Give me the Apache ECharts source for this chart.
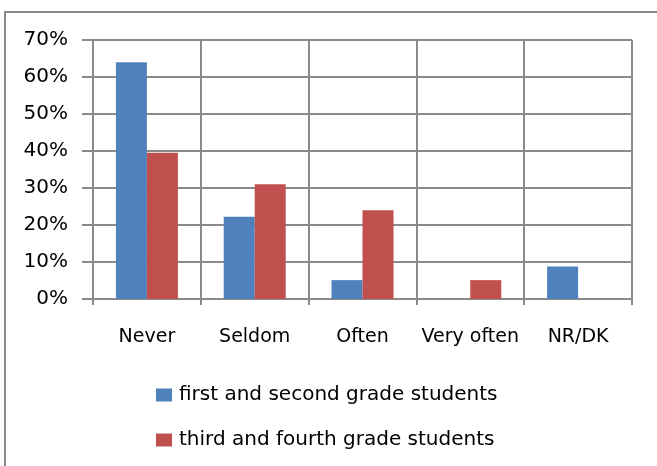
<!DOCTYPE html>
<html>
<head>
<meta charset="utf-8">
<script src="https://cdn.jsdelivr.net/npm/echarts@6/dist/echarts.min.js"></script>
<style>
html, body { margin: 0; padding: 0; background: #fff; }
#chart { width: 657px; height: 466px; }
</style>
</head>
<body>
<div id="chart"></div>
<script>
var categories = ['Never', 'Seldom', 'Often', 'Very often', 'NR/DK'];
var series_names = ['first and second grade students', 'third and fourth grade students'];
var first_second = [64, 22.2, 5.1, 0, 8.8];
var third_fourth = [39.5, 31, 24, 5.1, 0];

var grid_color = '#8a8a8a';
var font = 'DejaVu Sans';

var myChart = echarts.init(document.getElementById('chart'));

var option = {
    animation: false,
    backgroundColor: '#fff',
    textStyle: { fontFamily: font },
    grid: { left: 93, right: 25, top: 40, bottom: 167 },
    graphic: [{
        type: 'rect',
        shape: { x: 5, y: 12, width: 700, height: 500 },
        style: { fill: 'none', stroke: grid_color, lineWidth: 2 },
        silent: true
    }],
    legend: {
        orient: 'vertical',
        left: 151,
        top: 380,
        itemWidth: 16,
        itemHeight: 13,
        itemGap: 25,
        icon: 'rect',
        textStyle: { fontFamily: font, fontSize: 20, color: '#000', padding: [0, 0, 0, 2] },
        data: series_names
    },
    xAxis: {
        type: 'category',
        data: categories,
        axisLine: { lineStyle: { color: grid_color, width: 2 } },
        axisTick: { show: true, interval: 0, length: 6, lineStyle: { color: grid_color, width: 2 } },
        splitLine: { show: true, interval: 0, lineStyle: { color: grid_color, width: 2 } },
        axisLabel: { interval: 0, color: '#000', fontSize: 19, fontFamily: font, margin: 29 }
    },
    yAxis: {
        type: 'value',
        min: 0,
        max: 70,
        interval: 10,
        axisLine: { show: true, lineStyle: { color: grid_color, width: 2 } },
        axisTick: { show: true, length: 11, lineStyle: { color: grid_color, width: 2 } },
        splitLine: { show: true, lineStyle: { color: grid_color, width: 2 } },
        axisLabel: { color: '#000', fontSize: 20, fontFamily: font, margin: 25, formatter: '{value}%' }
    },
    series: [{
        name: series_names[0],
        type: 'bar',
        data: first_second,
        barWidth: 31,
        barGap: '0%',
        itemStyle: { color: '#4F81BD' }
    }, {
        name: series_names[1],
        type: 'bar',
        data: third_fourth,
        barWidth: 31,
        itemStyle: { color: '#C0504D' }
    }]
};

myChart.setOption(option);
</script>
</body>
</html>
